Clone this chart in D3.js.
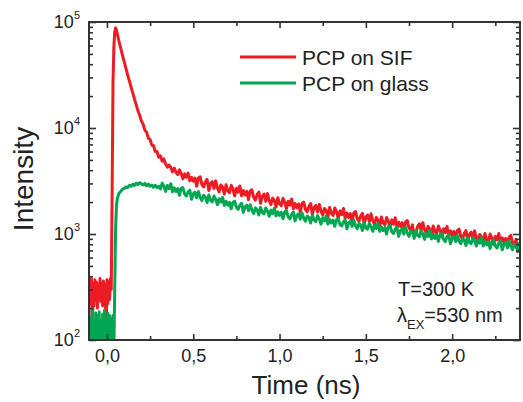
<!DOCTYPE html>
<html>
<head>
<meta charset="utf-8">
<script src="https://cdn.jsdelivr.net/npm/d3@7"></script>
<style>
body { margin: 0; background: #fff; }
svg { font-family: "Liberation Sans", Arial, sans-serif; }
</style>
</head>
<body>
<svg id="decay_svg" width="523" height="402"></svg>
<script>
// time axis (ns), shared by both decay curves
const g_time = [
    // baseline before the pulse
    -0.105, -0.100, -0.095, -0.090, -0.085, -0.080, -0.075, -0.070, -0.065, -0.060, -0.055, -0.050, -0.045, -0.040,
    -0.035, -0.030, -0.025, -0.020, -0.015, -0.010, -0.005, 0.000, 0.005, 0.010, 0.015, 0.020, 0.025,
    // rise
    0.030, 0.035, 0.040, 0.045, 0.050, 0.055, 0.060, 0.065,
    // fast part
    0.07, 0.08, 0.09, 0.10, 0.11, 0.12, 0.13, 0.14, 0.15, 0.16, 0.17, 0.18, 0.19, 0.20, 0.21, 0.22, 0.23, 0.24,
    0.25, 0.26, 0.27, 0.28, 0.29, 0.30,
    // slow tail
    0.31, 0.32, 0.33, 0.34, 0.35, 0.36, 0.37, 0.38, 0.39, 0.40,
    0.41, 0.42, 0.43, 0.44, 0.45, 0.46, 0.47, 0.48, 0.49, 0.50,
    0.51, 0.52, 0.53, 0.54, 0.55, 0.56, 0.57, 0.58, 0.59, 0.60,
    0.61, 0.62, 0.63, 0.64, 0.65, 0.66, 0.67, 0.68, 0.69, 0.70,
    0.71, 0.72, 0.73, 0.74, 0.75, 0.76, 0.77, 0.78, 0.79, 0.80,
    0.81, 0.82, 0.83, 0.84, 0.85, 0.86, 0.87, 0.88, 0.89, 0.90,
    0.91, 0.92, 0.93, 0.94, 0.95, 0.96, 0.97, 0.98, 0.99, 1.00,
    1.01, 1.02, 1.03, 1.04, 1.05, 1.06, 1.07, 1.08, 1.09, 1.10,
    1.11, 1.12, 1.13, 1.14, 1.15, 1.16, 1.17, 1.18, 1.19, 1.20,
    1.21, 1.22, 1.23, 1.24, 1.25, 1.26, 1.27, 1.28, 1.29, 1.30,
    1.31, 1.32, 1.33, 1.34, 1.35, 1.36, 1.37, 1.38, 1.39, 1.40,
    1.41, 1.42, 1.43, 1.44, 1.45, 1.46, 1.47, 1.48, 1.49, 1.50,
    1.51, 1.52, 1.53, 1.54, 1.55, 1.56, 1.57, 1.58, 1.59, 1.60,
    1.61, 1.62, 1.63, 1.64, 1.65, 1.66, 1.67, 1.68, 1.69, 1.70,
    1.71, 1.72, 1.73, 1.74, 1.75, 1.76, 1.77, 1.78, 1.79, 1.80,
    1.81, 1.82, 1.83, 1.84, 1.85, 1.86, 1.87, 1.88, 1.89, 1.90,
    1.91, 1.92, 1.93, 1.94, 1.95, 1.96, 1.97, 1.98, 1.99, 2.00,
    2.01, 2.02, 2.03, 2.04, 2.05, 2.06, 2.07, 2.08, 2.09, 2.10,
    2.11, 2.12, 2.13, 2.14, 2.15, 2.16, 2.17, 2.18, 2.19, 2.20,
    2.21, 2.22, 2.23, 2.24, 2.25, 2.26, 2.27, 2.28, 2.29, 2.30,
    2.31, 2.32, 2.33, 2.34, 2.35, 2.36, 2.37, 2.38, 2.39, 2.40
];

// intensity, PCP on SIF (red)
const g_sif = [
    250, 360, 220, 380, 95, 340, 210, 370, 240, 350, 200, 330, 260, 380,
    230, 340, 210, 360, 250, 330, 95, 370, 220, 350, 240, 380, 300,
    2500, 26000, 58000, 80000, 88000, 84000, 77000, 71000,
    65500, 56500, 48500, 42000, 36500, 31500, 27800, 24200, 21300, 18600, 16500, 14500, 13100, 11600, 10800, 9500, 9100, 8000,
    7800, 6900, 6800, 6000, 6000, 5300,
    5460, 4850, 5110, 4580, 4280, 4460, 4240, 3850, 4180, 3820,
    3630, 4030, 3730, 3310, 3700, 3430, 3760, 3170, 3420, 3150,
    3370, 2820, 3380, 3460, 2940, 2780, 3110, 3280, 2570, 2980,
    3120, 2690, 3170, 2730, 2500, 2900, 2760, 2380, 2920, 2550,
    2460, 2880, 2650, 2290, 2700, 2480, 2840, 2290, 2570, 2330,
    2530, 2110, 2550, 2610, 2210, 2090, 2350, 2490, 1950, 2260,
    2380, 2040, 2410, 2070, 1890, 2180, 2080, 1800, 2200, 1920,
    1850, 2170, 1990, 1730, 2040, 1870, 2140, 1730, 1940, 1770,
    1920, 1610, 1940, 2000, 1700, 1620, 1820, 1940, 1520, 1770,
    1860, 1610, 1900, 1640, 1510, 1740, 1670, 1440, 1780, 1560,
    1500, 1760, 1620, 1400, 1650, 1520, 1740, 1410, 1580, 1430,
    1560, 1310, 1580, 1630, 1390, 1320, 1480, 1570, 1240, 1440,
    1510, 1310, 1550, 1330, 1230, 1430, 1360, 1180, 1450, 1270,
    1220, 1430, 1320, 1150, 1360, 1240, 1420, 1150, 1290, 1180,
    1280, 1070, 1300, 1340, 1140, 1080, 1220, 950, 1020, 1180,
    1250, 1080, 1280, 1100, 1010, 1180, 1120, 970, 1190, 1050,
    1010, 1190, 1090, 940, 1120, 1030, 1180, 960, 1070, 970,
    1060, 890, 1080, 1110, 950, 900, 1010, 1080, 850, 990,
    1040, 900, 1070, 920, 850, 990, 940, 820, 1010, 880,
    850, 1000, 920, 800, 950, 880, 1010, 820, 920, 840,
    910, 770, 930, 970, 820, 790, 890, 680, 740, 870
];

// intensity, PCP on glass (green)
const g_glass = [
    170, 40, 160, 30, 190, 50, 150, 40, 180, 30, 170, 60, 185, 40,
    150, 30, 175, 45, 190, 35, 160, 40, 180, 30, 170, 50, 160,
    60, 170, 80, 300, 1100, 1850, 2150, 2300,
    2420, 2520, 2650, 2680, 2780, 2740, 2880, 2820, 2950, 2870, 3020, 2930, 3050, 2960, 2900, 3000, 2850, 2950,
    2820, 2900, 2760, 2880, 2740, 2820,
    2660, 3020, 2820, 2520, 2870, 2680, 2980, 2500, 2730, 2520,
    2680, 2320, 2690, 2740, 2390, 2280, 2490, 2590, 2130, 2390,
    2480, 2200, 2510, 2220, 2070, 2320, 2230, 1980, 2330, 2080,
    2010, 2280, 2120, 1890, 2150, 2000, 2220, 1860, 2030, 1870,
    1990, 1730, 2000, 2030, 1780, 1710, 1870, 1950, 1600, 1800,
    1870, 1660, 1890, 1670, 1560, 1760, 1690, 1510, 1780, 1600,
    1550, 1760, 1650, 1470, 1680, 1560, 1750, 1480, 1620, 1500,
    1600, 1390, 1620, 1650, 1450, 1390, 1530, 1610, 1330, 1490,
    1550, 1380, 1580, 1410, 1320, 1480, 1430, 1270, 1500, 1350,
    1310, 1490, 1390, 1240, 1420, 1330, 1480, 1240, 1370, 1270,
    1350, 1180, 1370, 1400, 1230, 1190, 1300, 1360, 1120, 1270,
    1320, 1180, 1350, 1190, 1120, 1260, 1210, 1080, 1280, 1140,
    1110, 1260, 1180, 1060, 1210, 1130, 1260, 1060, 1160, 1080,
    1150, 1000, 1170, 1200, 1050, 1010, 1110, 1160, 950, 1080,
    1120, 1000, 1150, 1020, 950, 1070, 1030, 910, 1080, 970,
    940, 1070, 1000, 890, 1020, 950, 1070, 900, 990, 910,
    980, 850, 990, 1010, 890, 850, 940, 980, 810, 910,
    950, 850, 970, 860, 810, 910, 880, 780, 920, 830,
    810, 920, 860, 770, 880, 820, 920, 770, 850, 790,
    840, 730, 850, 880, 770, 740, 820, 860, 710, 800,
    840, 740, 850, 760, 710, 800, 770, 690, 820, 740
];

const g_series_names = ["PCP on SIF", "PCP on glass"];
const g_x_major = [0.0, 0.5, 1.0, 1.5, 2.0];
const g_x_minor = [0.25, 0.75, 1.25, 1.75, 2.25];
const g_x_labels = ["0,0", "0,5", "1,0", "1,5", "2,0"];
const g_y_major = [1e2, 1e3, 1e4, 1e5];
const g_y_exps = ["2", "3", "4", "5"];

// plot frame in pixels
const g_frame = { left: 89, right: 520, top: 22, bottom: 340 };
const g_colors = ["#ed1c24", "#00a651"];

draw_chart();

function draw_chart() {
    var svg = d3.select("#decay_svg");
    var fr = g_frame;

    // set scaler
    var x_scaler = d3.scaleLinear().domain([-0.104, 2.393]).range([fr.left, fr.right]);
    var y_scaler = d3.scaleLog().domain([1e2, 1e5]).range([fr.bottom, fr.top]);

    // clip for the data
    svg.append("clipPath").attr("id", "plot_clip").append("rect")
        .attr("x", fr.left).attr("y", fr.top)
        .attr("width", fr.right - fr.left).attr("height", fr.bottom - fr.top);

    // decay curves; red first, green over it
    var line = d3.line().x(d => x_scaler(d[0])).y(d => y_scaler(Math.max(d[1], 1)));
    var series = [g_sif, g_glass].map(vals => g_time.map((t, i) => [t, vals[i]]));
    svg.append("g").attr("clip-path", "url(#plot_clip)")
        .selectAll(".decay_path").data(series).join("path").classed("decay_path", true)
        .attr("d", d => line(d))
        .attr("fill", "none")
        .attr("stroke", (d, i) => g_colors[i])
        .attr("stroke-width", 3)
        .attr("stroke-linejoin", "round");

    // axes, ticks inward on all four sides
    var minor_y = y_scaler.ticks().filter(v => g_y_major.indexOf(v) < 0);
    var axes = [
        d3.axisBottom(x_scaler).tickValues(g_x_major).tickSize(-6).tickPadding(9).tickFormat((d, i) => g_x_labels[i]),
        d3.axisBottom(x_scaler).tickValues(g_x_minor).tickSize(-4).tickFormat(""),
        d3.axisTop(x_scaler).tickValues(g_x_major).tickSize(-6).tickFormat(""),
        d3.axisTop(x_scaler).tickValues(g_x_minor).tickSize(-4).tickFormat(""),
        d3.axisLeft(y_scaler).tickValues(g_y_major).tickSize(-7).tickFormat(""),
        d3.axisLeft(y_scaler).tickValues(minor_y).tickSize(-4).tickFormat(""),
        d3.axisRight(y_scaler).tickValues(g_y_major).tickSize(-7).tickFormat(""),
        d3.axisRight(y_scaler).tickValues(minor_y).tickSize(-4).tickFormat("")
    ];
    var shifts = ["0," + fr.bottom, "0," + fr.bottom, "0," + fr.top, "0," + fr.top,
        fr.left + ",0", fr.left + ",0", fr.right + ",0", fr.right + ",0"];
    axes.forEach(function (ax, i) {
        var g = svg.append("g").attr("transform", "translate(" + shifts[i] + ")").call(ax);
        g.select(".domain").remove();
        g.selectAll("line").attr("stroke", "#333").attr("stroke-width", 1.6);
        g.selectAll("text").attr("fill", "#222").style("font-size", "18px").style("font-family", null);
    });

    // frame
    svg.append("rect")
        .attr("x", fr.left).attr("y", fr.top)
        .attr("width", fr.right - fr.left).attr("height", fr.bottom - fr.top)
        .attr("fill", "none").attr("stroke", "#333").attr("stroke-width", 2);

    // y tick labels as powers of ten
    var ylab = svg.append("g").selectAll("text").data(g_y_major).join("text")
        .attr("x", 80).attr("y", d => y_scaler(d) + 6)
        .attr("text-anchor", "end").attr("fill", "#222").style("font-size", "18px");
    ylab.append("tspan").text("10");
    ylab.append("tspan").attr("dy", -9).style("font-size", "11px").text((d, i) => g_y_exps[i]);

    // axis titles
    svg.append("text").attr("transform", "translate(33,179) rotate(-90)")
        .attr("text-anchor", "middle").attr("fill", "#222").style("font-size", "28px").text("Intensity");
    svg.append("text").attr("x", 306).attr("y", 394)
        .attr("text-anchor", "middle").attr("fill", "#222").style("font-size", "26px").text("Time (ns)");

    // legend
    var leg = svg.append("g").selectAll("g").data(g_series_names).join("g")
        .attr("transform", (d, i) => "translate(240," + (57 + i * 26) + ")");
    leg.append("line").attr("x1", 0).attr("x2", 56)
        .attr("stroke", (d, i) => g_colors[i]).attr("stroke-width", 3);
    leg.append("text").attr("x", 62).attr("y", 8).attr("fill", "#222")
        .style("font-size", "21px").text(d => d);

    // measurement notes
    svg.append("text").attr("x", 398).attr("y", 296).attr("fill", "#222")
        .style("font-size", "20px").text("T=300 K");
    var lam = svg.append("text").attr("x", 397).attr("y", 322).attr("fill", "#222").style("font-size", "20px");
    lam.append("tspan").text("λ");
    lam.append("tspan").attr("dy", 7).style("font-size", "13px").text("EX");
    lam.append("tspan").attr("dy", -7).text("=530 nm");
}
</script>
</body>
</html>
